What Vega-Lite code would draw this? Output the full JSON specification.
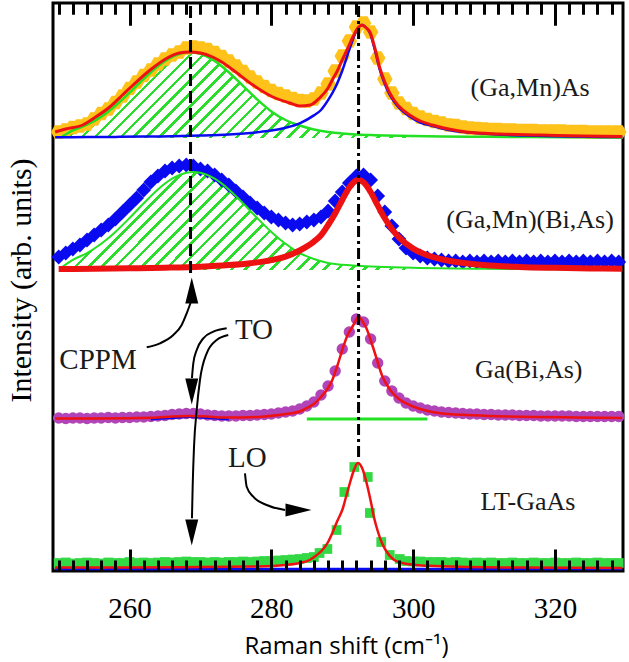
{
"$schema":"https://vega.github.io/schema/vega-lite/v6.json",
"width":570,"height":568,
"autosize":{"type":"none"},
"padding":{"left":53,"top":3,"right":6,"bottom":91},
"background":"white",
"config":{"view":{"stroke":"black","strokeWidth":3},"axis":{"grid":false,"domain":false,"zindex":1}},
"datasets":{
"Adat":[{"x":250,"y":439},{"x":251,"y":441},{"x":252,"y":443.5},{"x":253,"y":445},{"x":254,"y":447},{"x":255,"y":452},{"x":256,"y":457.5},{"x":257,"y":462},{"x":258,"y":468.5},{"x":259,"y":475},{"x":260,"y":482.5},{"x":261,"y":489},{"x":262,"y":495.5},{"x":263,"y":501},{"x":264,"y":507},{"x":265,"y":512},{"x":266,"y":516},{"x":267,"y":519},{"x":268,"y":523},{"x":269,"y":524},{"x":270,"y":523},{"x":271,"y":521.5},{"x":272,"y":518.5},{"x":273,"y":514.5},{"x":274,"y":510},{"x":275,"y":505},{"x":276,"y":499.5},{"x":277,"y":494},{"x":278,"y":489},{"x":279,"y":484.5},{"x":280,"y":480.5},{"x":281,"y":477.5},{"x":282,"y":475},{"x":283,"y":472.5},{"x":284,"y":470.5},{"x":285,"y":470},{"x":286,"y":472},{"x":287,"y":478},{"x":288,"y":487},{"x":289,"y":500},{"x":290,"y":515},{"x":291,"y":530},{"x":292,"y":544},{"x":293,"y":548},{"x":294,"y":539},{"x":295,"y":513},{"x":296,"y":492},{"x":297,"y":478},{"x":298,"y":468},{"x":299,"y":462.5},{"x":300,"y":457.5},{"x":301,"y":454},{"x":302,"y":451.5},{"x":303,"y":449.5},{"x":304,"y":448},{"x":305,"y":446},{"x":306,"y":445.5},{"x":307,"y":444},{"x":308,"y":443},{"x":309,"y":442.5},{"x":310,"y":442},{"x":311,"y":441.5},{"x":312,"y":441.5},{"x":313,"y":441},{"x":314,"y":441},{"x":315,"y":440.5},{"x":316,"y":440.5},{"x":317,"y":440.5},{"x":318,"y":440},{"x":319,"y":440},{"x":320,"y":440},{"x":321,"y":440},{"x":322,"y":439.5},{"x":323,"y":439.5},{"x":324,"y":439.5},{"x":325,"y":439},{"x":326,"y":439},{"x":327,"y":439},{"x":328,"y":439},{"x":329,"y":439}],
"Ared":[{"x":249.5,"y":439},{"x":251,"y":442},{"x":253.4,"y":446},{"x":255,"y":453},{"x":257.2,"y":464},{"x":259,"y":476},{"x":260.5,"y":486},{"x":262.9,"y":501},{"x":265.3,"y":513},{"x":267,"y":518},{"x":268.5,"y":519},{"x":270,"y":518},{"x":271.7,"y":514},{"x":273,"y":509},{"x":274.6,"y":501},{"x":277.4,"y":486},{"x":280.2,"y":474},{"x":282.6,"y":468},{"x":284,"y":465},{"x":285.5,"y":466},{"x":286.8,"y":473},{"x":288,"y":483},{"x":288.6,"y":491},{"x":289.3,"y":500},{"x":290,"y":511},{"x":290.8,"y":523},{"x":291.5,"y":534},{"x":292.2,"y":543},{"x":292.8,"y":546},{"x":293.4,"y":543},{"x":293.9,"y":539},{"x":294.6,"y":523},{"x":295.3,"y":503},{"x":296,"y":489},{"x":296.7,"y":478},{"x":297.4,"y":470},{"x":298.1,"y":464},{"x":299.5,"y":456},{"x":301,"y":450},{"x":302.7,"y":446},{"x":305,"y":442},{"x":307.5,"y":439},{"x":312.2,"y":437},{"x":318,"y":436},{"x":324,"y":435},{"x":329.5,"y":434.5}],
"Ablue":[{"x":249.5,"y":433.7},{"x":254,"y":433.9},{"x":258,"y":434.1},{"x":262,"y":434.4},{"x":266,"y":434.8},{"x":270,"y":435.5},{"x":274,"y":436.6},{"x":278,"y":438.7},{"x":280,"y":440.4},{"x":282,"y":443.2},{"x":284,"y":447.7},{"x":286,"y":455.6},{"x":287,"y":461},{"x":288,"y":470.8},{"x":289,"y":483.2},{"x":290,"y":500.3},{"x":291,"y":521.3},{"x":292,"y":540},{"x":292.8,"y":546},{"x":293.4,"y":543},{"x":293.9,"y":538},{"x":294.6,"y":521},{"x":295.3,"y":501},{"x":296,"y":487},{"x":296.7,"y":476},{"x":297.4,"y":468.5},{"x":298.1,"y":462.5},{"x":299.5,"y":454.5},{"x":301,"y":448.5},{"x":302.7,"y":445},{"x":305,"y":441},{"x":308,"y":438.4},{"x":312,"y":436.4},{"x":316,"y":435.4},{"x":320,"y":434.7},{"x":325,"y":434.2},{"x":329.5,"y":433.9}],
"Agreen":[{"x":250.5,"y":434.5},{"x":252,"y":440.6},{"x":254,"y":446.3},{"x":256,"y":454.4},{"x":258,"y":465.3},{"x":260,"y":478.3},{"x":262,"y":492.1},{"x":264,"y":504.8},{"x":266,"y":514.1},{"x":268,"y":518.8},{"x":268.6,"y":519},{"x":270,"y":517.3},{"x":272,"y":510.1},{"x":274,"y":498.7},{"x":276,"y":485.2},{"x":278,"y":471.6},{"x":280,"y":459.6},{"x":282,"y":451},{"x":284,"y":445.5},{"x":286,"y":441.5},{"x":288,"y":439},{"x":290,"y":437.5},{"x":292,"y":436.5},{"x":294.5,"y":435.8},{"x":298,"y":435.2},{"x":300,"y":435},{"x":302,"y":434.8},{"x":308,"y":434.3},{"x":316,"y":433.9},{"x":329.5,"y":433.5}],
"Bdat":[{"x":250,"y":314},{"x":251,"y":318},{"x":252,"y":322},{"x":253,"y":326},{"x":254,"y":331},{"x":255,"y":336},{"x":256,"y":341},{"x":257,"y":346},{"x":258,"y":352},{"x":259,"y":359},{"x":260,"y":366},{"x":261,"y":373},{"x":262,"y":381},{"x":263,"y":389},{"x":264,"y":395},{"x":265,"y":400},{"x":266,"y":403},{"x":267,"y":405},{"x":268,"y":406},{"x":269,"y":405},{"x":270,"y":402},{"x":271,"y":400},{"x":272,"y":396},{"x":273,"y":391},{"x":274,"y":386},{"x":275,"y":380},{"x":276,"y":374},{"x":277,"y":368},{"x":278,"y":363},{"x":279,"y":358},{"x":280,"y":354},{"x":281,"y":351},{"x":282,"y":348},{"x":283,"y":346},{"x":284,"y":347},{"x":285,"y":349},{"x":286,"y":351},{"x":287,"y":354},{"x":288,"y":360},{"x":289,"y":370},{"x":290,"y":379},{"x":291,"y":388},{"x":292,"y":395},{"x":293,"y":396},{"x":294,"y":391},{"x":295,"y":375},{"x":296,"y":359},{"x":297,"y":345},{"x":298,"y":332},{"x":299,"y":323},{"x":300,"y":318},{"x":301,"y":315},{"x":302,"y":313},{"x":303,"y":312},{"x":304,"y":311},{"x":305,"y":310},{"x":306,"y":310},{"x":307,"y":309},{"x":308,"y":310},{"x":309,"y":309},{"x":310,"y":310},{"x":311,"y":309},{"x":312,"y":310},{"x":313,"y":309},{"x":314,"y":310},{"x":315,"y":309},{"x":316,"y":310},{"x":317,"y":309},{"x":318,"y":310},{"x":319,"y":309},{"x":320,"y":310},{"x":321,"y":309},{"x":322,"y":310},{"x":323,"y":309},{"x":324,"y":310},{"x":325,"y":309},{"x":326,"y":310},{"x":327,"y":309},{"x":328,"y":310},{"x":329,"y":309}],
"Bred":[{"x":250,"y":301.9},{"x":255,"y":302.2},{"x":260,"y":302.7},{"x":265,"y":303.3},{"x":270,"y":304.3},{"x":274,"y":305.9},{"x":277,"y":307.8},{"x":280,"y":310.9},{"x":282,"y":314.3},{"x":284,"y":320.5},{"x":286,"y":329.4},{"x":287,"y":335.8},{"x":288,"y":346},{"x":289,"y":357.6},{"x":290,"y":371},{"x":291,"y":383.5},{"x":292,"y":390.6},{"x":292.3,"y":391},{"x":293,"y":388.7},{"x":294,"y":379},{"x":295,"y":365.6},{"x":296,"y":352.7},{"x":297,"y":342},{"x":298,"y":333.6},{"x":300,"y":322.4},{"x":302,"y":315.8},{"x":305,"y":310.3},{"x":310,"y":306},{"x":315,"y":304.1},{"x":320,"y":303.2},{"x":325,"y":302.6},{"x":329.5,"y":302.2}],
"Bgreen":[{"x":250.5,"y":304},{"x":252,"y":311.2},{"x":254,"y":317.9},{"x":256,"y":327.2},{"x":258,"y":339.1},{"x":260,"y":353},{"x":262,"y":367.8},{"x":264,"y":381.6},{"x":266,"y":392.3},{"x":268,"y":398.2},{"x":269,"y":399},{"x":270,"y":398.2},{"x":272,"y":392.3},{"x":274,"y":381.6},{"x":276,"y":367.8},{"x":278,"y":353},{"x":280,"y":339.1},{"x":282,"y":327.2},{"x":284,"y":317.9},{"x":286,"y":312},{"x":288,"y":308},{"x":290,"y":306.2},{"x":292,"y":305.3},{"x":295,"y":304.3},{"x":300,"y":303.2},{"x":310,"y":302.2},{"x":320,"y":301.8},{"x":329.5,"y":301.5}],
"Cdat":[{"x":250,"y":153},{"x":251,"y":152.5},{"x":252,"y":153},{"x":253,"y":153},{"x":254,"y":152.5},{"x":255,"y":153},{"x":256,"y":153},{"x":257,"y":153.5},{"x":258,"y":153},{"x":259,"y":153.5},{"x":260,"y":153.5},{"x":261,"y":154},{"x":262,"y":154},{"x":263,"y":154.5},{"x":264,"y":155},{"x":265,"y":155.5},{"x":266,"y":156.5},{"x":267,"y":157},{"x":268,"y":157.5},{"x":269,"y":157.5},{"x":270,"y":157},{"x":271,"y":156},{"x":272,"y":155.5},{"x":273,"y":155},{"x":274,"y":155},{"x":275,"y":155},{"x":276,"y":155.5},{"x":277,"y":155.5},{"x":278,"y":156},{"x":279,"y":156.5},{"x":280,"y":157},{"x":281,"y":158},{"x":282,"y":159},{"x":283,"y":160},{"x":284,"y":162},{"x":285,"y":165},{"x":286,"y":169},{"x":287,"y":176},{"x":288,"y":185},{"x":289,"y":200},{"x":290,"y":222},{"x":291,"y":239},{"x":292,"y":252},{"x":293,"y":249},{"x":294,"y":232},{"x":295,"y":208},{"x":296,"y":190},{"x":297,"y":180},{"x":298,"y":173},{"x":299,"y":168},{"x":300,"y":165},{"x":301,"y":163},{"x":302,"y":161},{"x":303,"y":160},{"x":304,"y":159},{"x":305,"y":158.5},{"x":306,"y":158},{"x":307,"y":157.5},{"x":308,"y":157},{"x":309,"y":157},{"x":310,"y":156.5},{"x":311,"y":156.5},{"x":312,"y":156},{"x":313,"y":156},{"x":314,"y":156},{"x":315,"y":155.5},{"x":316,"y":155.5},{"x":317,"y":155.5},{"x":318,"y":155},{"x":319,"y":155},{"x":320,"y":155},{"x":321,"y":155},{"x":322,"y":155},{"x":323,"y":154.5},{"x":324,"y":154.5},{"x":325,"y":154.5},{"x":326,"y":154.5},{"x":327,"y":154.5},{"x":328,"y":154.5},{"x":329,"y":154.5}],
"Cred":[{"x":249.5,"y":152.5},{"x":255,"y":152.5},{"x":260,"y":152.8},{"x":264,"y":153.5},{"x":266,"y":154.5},{"x":268.5,"y":155},{"x":271,"y":154.5},{"x":273,"y":153.5},{"x":276,"y":153.5},{"x":279,"y":154.5},{"x":281,"y":156},{"x":283,"y":158},{"x":284,"y":159.5},{"x":285,"y":163},{"x":286,"y":167},{"x":287,"y":174},{"x":288,"y":183},{"x":288.6,"y":191},{"x":289.3,"y":205},{"x":290,"y":221},{"x":290.7,"y":235},{"x":291.5,"y":245},{"x":292.3,"y":254},{"x":293,"y":248},{"x":293.4,"y":243},{"x":294,"y":231},{"x":294.6,"y":218},{"x":295.2,"y":204},{"x":295.7,"y":194},{"x":296.4,"y":185},{"x":297.1,"y":178},{"x":298,"y":172},{"x":299.5,"y":166},{"x":301,"y":162},{"x":302.7,"y":159},{"x":305,"y":157},{"x":307.5,"y":156},{"x":312,"y":154.8},{"x":317,"y":154},{"x":323,"y":153.5},{"x":329.5,"y":153}],
"Cgreen":[{"x":285,"y":152},{"x":302,"y":152}],
"Cblue":[{"x":263,"y":151.5},{"x":266,"y":153},{"x":268.5,"y":154},{"x":271,"y":153},{"x":274,"y":151.5}],
"Ddat":[{"x":250,"y":8},{"x":251,"y":8.5},{"x":252,"y":7.5},{"x":253,"y":8},{"x":254,"y":8.5},{"x":255,"y":8},{"x":256,"y":7.5},{"x":257,"y":8.5},{"x":258,"y":8},{"x":259,"y":8},{"x":260,"y":9},{"x":261,"y":8},{"x":262,"y":8.5},{"x":263,"y":8},{"x":264,"y":8.5},{"x":265,"y":9},{"x":266,"y":8.5},{"x":267,"y":9},{"x":268,"y":9.5},{"x":269,"y":9},{"x":270,"y":9},{"x":271,"y":8.5},{"x":272,"y":9},{"x":273,"y":8.5},{"x":274,"y":9},{"x":275,"y":9},{"x":276,"y":9.5},{"x":277,"y":9},{"x":278,"y":9.5},{"x":279,"y":10},{"x":280,"y":10},{"x":281,"y":10.5},{"x":282,"y":11},{"x":283,"y":11.5},{"x":284,"y":12},{"x":285,"y":13},{"x":286,"y":14},{"x":286.8,"y":18},{"x":287.9,"y":22},{"x":289.2,"y":41},{"x":290.3,"y":79},{"x":291.7,"y":104},{"x":293.6,"y":94},{"x":293.9,"y":58},{"x":295.5,"y":29},{"x":296.7,"y":16},{"x":298.1,"y":12},{"x":299,"y":10},{"x":300,"y":9.5},{"x":301,"y":9.5},{"x":302,"y":9},{"x":303,"y":9},{"x":304,"y":9},{"x":305,"y":8.5},{"x":306,"y":9},{"x":307,"y":8.5},{"x":308,"y":8},{"x":309,"y":8.5},{"x":310,"y":8},{"x":311,"y":8.5},{"x":312,"y":8},{"x":313,"y":8},{"x":314,"y":8.5},{"x":315,"y":8},{"x":316,"y":8},{"x":317,"y":8.5},{"x":318,"y":8},{"x":319,"y":8},{"x":320,"y":8.5},{"x":321,"y":8},{"x":322,"y":8},{"x":323,"y":8.5},{"x":324,"y":8},{"x":325,"y":8},{"x":326,"y":8.5},{"x":327,"y":8},{"x":328,"y":8},{"x":329,"y":8}],
"Dred":[{"x":249.5,"y":3.5},{"x":260,"y":3.5},{"x":270,"y":4},{"x":278,"y":4.5},{"x":282,"y":6},{"x":284,"y":8},{"x":285.4,"y":11},{"x":286.4,"y":16},{"x":287.2,"y":21},{"x":288,"y":29},{"x":288.6,"y":38},{"x":289.3,"y":50},{"x":290.1,"y":63},{"x":290.6,"y":76},{"x":291,"y":86},{"x":291.6,"y":100},{"x":292.2,"y":108},{"x":292.8,"y":103},{"x":293.4,"y":89},{"x":293.8,"y":77},{"x":294.1,"y":67},{"x":294.5,"y":53},{"x":295,"y":40},{"x":295.6,"y":28},{"x":296.2,"y":20},{"x":297,"y":13},{"x":297.6,"y":10},{"x":298.5,"y":8},{"x":300.4,"y":6},{"x":303,"y":5},{"x":307.5,"y":4},{"x":315,"y":3.5},{"x":329.5,"y":3}],
"Dblue":[{"x":249.5,"y":2},{"x":329.5,"y":2}],
"arrows":[
{"id":"cppm","o":1,"x":262.42,"y":223.7},{"id":"cppm","o":2,"x":264.29,"y":227.7},{"id":"cppm","o":3,"x":266.17,"y":236},{"id":"cppm","o":4,"x":267.35,"y":246},{"id":"cppm","o":5,"x":268.06,"y":257.7},{"id":"cppm","o":6,"x":268.6,"y":268},
{"id":"to1","o":1,"x":273.7,"y":242.7},{"id":"to1","o":2,"x":271.81,"y":239.3},{"id":"to1","o":3,"x":270.4,"y":232.7},{"id":"to1","o":4,"x":269.47,"y":221},{"id":"to1","o":5,"x":268.99,"y":207.7},{"id":"to1","o":6,"x":268.8,"y":193},
{"id":"to2","o":1,"x":273.92,"y":236},{"id":"to2","o":2,"x":272.29,"y":231},{"id":"to2","o":3,"x":270.88,"y":217.7},{"id":"to2","o":4,"x":269.93,"y":191},{"id":"to2","o":5,"x":269.47,"y":161},{"id":"to2","o":6,"x":269.09,"y":124.3},{"id":"to2","o":7,"x":268.9,"y":84.3},{"id":"to2","o":8,"x":268.8,"y":52.7},
{"id":"lo","o":1,"x":276.28,"y":97.7},{"id":"lo","o":2,"x":276.52,"y":84.3},{"id":"lo","o":3,"x":277.45,"y":74.3},{"id":"lo","o":4,"x":279.34,"y":66},{"id":"lo","o":5,"x":281.92,"y":61}],
"heads":[{"x":268.77,"y":280.5,"a":0},{"x":268.77,"y":179.5,"a":180},{"x":268.77,"y":38.5,"a":180},{"x":283.83,"y":61,"a":90}],
"labels":[{"t":"(Ga,Mn)As","x":316.5,"y":483},{"t":"(Ga,Mn)(Bi,As)","x":316.5,"y":351},{"t":"Ga(Bi,As)","x":316.3,"y":201},{"t":"LT-GaAs","x":316.2,"y":69}],
"notes":[{"t":"CPPM","x":255.55,"y":211},{"t":"TO","x":277.55,"y":241},{"t":"LO","x":276.6,"y":113}]
},
"layer":[
{"data":{"name":"Agreen"},"transform":[{"filter":"datum.x <= 300"}],
 "mark":{"type":"area","opacity":1,"interpolate":"monotone","fill":{"gradient":"linear","x1":0,"y1":0,"x2":1.175,"y2":0.288,"stops":[
{"offset":0,"color":"#2BDD2B"},{"offset":0.008,"color":"#2BDD2B"},{"offset":0.008,"color":"rgba(255,255,255,0)"},{"offset":0.0295,"color":"rgba(255,255,255,0)"},
{"offset":0.0295,"color":"#2BDD2B"},{"offset":0.0375,"color":"#2BDD2B"},{"offset":0.0375,"color":"rgba(255,255,255,0)"},{"offset":0.059,"color":"rgba(255,255,255,0)"},
{"offset":0.059,"color":"#2BDD2B"},{"offset":0.067,"color":"#2BDD2B"},{"offset":0.067,"color":"rgba(255,255,255,0)"},{"offset":0.0885,"color":"rgba(255,255,255,0)"},
{"offset":0.0885,"color":"#2BDD2B"},{"offset":0.0965,"color":"#2BDD2B"},{"offset":0.0965,"color":"rgba(255,255,255,0)"},{"offset":0.118,"color":"rgba(255,255,255,0)"},
{"offset":0.118,"color":"#2BDD2B"},{"offset":0.126,"color":"#2BDD2B"},{"offset":0.126,"color":"rgba(255,255,255,0)"},{"offset":0.1475,"color":"rgba(255,255,255,0)"},
{"offset":0.1475,"color":"#2BDD2B"},{"offset":0.1555,"color":"#2BDD2B"},{"offset":0.1555,"color":"rgba(255,255,255,0)"},{"offset":0.177,"color":"rgba(255,255,255,0)"},
{"offset":0.177,"color":"#2BDD2B"},{"offset":0.185,"color":"#2BDD2B"},{"offset":0.185,"color":"rgba(255,255,255,0)"},{"offset":0.2065,"color":"rgba(255,255,255,0)"},
{"offset":0.2065,"color":"#2BDD2B"},{"offset":0.2145,"color":"#2BDD2B"},{"offset":0.2145,"color":"rgba(255,255,255,0)"},{"offset":0.236,"color":"rgba(255,255,255,0)"},
{"offset":0.236,"color":"#2BDD2B"},{"offset":0.244,"color":"#2BDD2B"},{"offset":0.244,"color":"rgba(255,255,255,0)"},{"offset":0.2655,"color":"rgba(255,255,255,0)"},
{"offset":0.2655,"color":"#2BDD2B"},{"offset":0.2735,"color":"#2BDD2B"},{"offset":0.2735,"color":"rgba(255,255,255,0)"},{"offset":0.295,"color":"rgba(255,255,255,0)"},
{"offset":0.295,"color":"#2BDD2B"},{"offset":0.303,"color":"#2BDD2B"},{"offset":0.303,"color":"rgba(255,255,255,0)"},{"offset":0.3245,"color":"rgba(255,255,255,0)"},
{"offset":0.3245,"color":"#2BDD2B"},{"offset":0.3325,"color":"#2BDD2B"},{"offset":0.3325,"color":"rgba(255,255,255,0)"},{"offset":0.354,"color":"rgba(255,255,255,0)"},
{"offset":0.354,"color":"#2BDD2B"},{"offset":0.362,"color":"#2BDD2B"},{"offset":0.362,"color":"rgba(255,255,255,0)"},{"offset":0.3835,"color":"rgba(255,255,255,0)"},
{"offset":0.3835,"color":"#2BDD2B"},{"offset":0.3915,"color":"#2BDD2B"},{"offset":0.3915,"color":"rgba(255,255,255,0)"},{"offset":0.413,"color":"rgba(255,255,255,0)"},
{"offset":0.413,"color":"#2BDD2B"},{"offset":0.421,"color":"#2BDD2B"},{"offset":0.421,"color":"rgba(255,255,255,0)"},{"offset":0.4425,"color":"rgba(255,255,255,0)"},
{"offset":0.4425,"color":"#2BDD2B"},{"offset":0.4505,"color":"#2BDD2B"},{"offset":0.4505,"color":"rgba(255,255,255,0)"},{"offset":0.472,"color":"rgba(255,255,255,0)"},
{"offset":0.472,"color":"#2BDD2B"},{"offset":0.48,"color":"#2BDD2B"},{"offset":0.48,"color":"rgba(255,255,255,0)"},{"offset":0.5015,"color":"rgba(255,255,255,0)"},
{"offset":0.5015,"color":"#2BDD2B"},{"offset":0.5095,"color":"#2BDD2B"},{"offset":0.5095,"color":"rgba(255,255,255,0)"},{"offset":0.531,"color":"rgba(255,255,255,0)"},
{"offset":0.531,"color":"#2BDD2B"},{"offset":0.539,"color":"#2BDD2B"},{"offset":0.539,"color":"rgba(255,255,255,0)"},{"offset":0.5605,"color":"rgba(255,255,255,0)"},
{"offset":0.5605,"color":"#2BDD2B"},{"offset":0.5685,"color":"#2BDD2B"},{"offset":0.5685,"color":"rgba(255,255,255,0)"},{"offset":0.59,"color":"rgba(255,255,255,0)"},
{"offset":0.59,"color":"#2BDD2B"},{"offset":0.598,"color":"#2BDD2B"},{"offset":0.598,"color":"rgba(255,255,255,0)"},{"offset":0.6195,"color":"rgba(255,255,255,0)"},
{"offset":0.6195,"color":"#2BDD2B"},{"offset":0.6275,"color":"#2BDD2B"},{"offset":0.6275,"color":"rgba(255,255,255,0)"},{"offset":0.649,"color":"rgba(255,255,255,0)"},
{"offset":0.649,"color":"#2BDD2B"},{"offset":0.657,"color":"#2BDD2B"},{"offset":0.657,"color":"rgba(255,255,255,0)"},{"offset":0.6785,"color":"rgba(255,255,255,0)"},
{"offset":0.6785,"color":"#2BDD2B"},{"offset":0.6865,"color":"#2BDD2B"},{"offset":0.6865,"color":"rgba(255,255,255,0)"},{"offset":0.708,"color":"rgba(255,255,255,0)"},
{"offset":0.708,"color":"#2BDD2B"},{"offset":0.716,"color":"#2BDD2B"},{"offset":0.716,"color":"rgba(255,255,255,0)"},{"offset":0.7375,"color":"rgba(255,255,255,0)"},
{"offset":0.7375,"color":"#2BDD2B"},{"offset":0.7455,"color":"#2BDD2B"},{"offset":0.7455,"color":"rgba(255,255,255,0)"},{"offset":0.767,"color":"rgba(255,255,255,0)"},
{"offset":0.767,"color":"#2BDD2B"},{"offset":0.775,"color":"#2BDD2B"},{"offset":0.775,"color":"rgba(255,255,255,0)"},{"offset":0.7965,"color":"rgba(255,255,255,0)"},
{"offset":0.7965,"color":"#2BDD2B"},{"offset":0.8045,"color":"#2BDD2B"},{"offset":0.8045,"color":"rgba(255,255,255,0)"},{"offset":0.826,"color":"rgba(255,255,255,0)"},
{"offset":0.826,"color":"#2BDD2B"},{"offset":0.834,"color":"#2BDD2B"},{"offset":0.834,"color":"rgba(255,255,255,0)"},{"offset":0.8555,"color":"rgba(255,255,255,0)"},
{"offset":0.8555,"color":"#2BDD2B"},{"offset":0.8635,"color":"#2BDD2B"},{"offset":0.8635,"color":"rgba(255,255,255,0)"},{"offset":0.885,"color":"rgba(255,255,255,0)"},
{"offset":0.885,"color":"#2BDD2B"},{"offset":0.893,"color":"#2BDD2B"},{"offset":0.893,"color":"rgba(255,255,255,0)"},{"offset":0.9145,"color":"rgba(255,255,255,0)"},
{"offset":0.9145,"color":"#2BDD2B"},{"offset":0.9225,"color":"#2BDD2B"},{"offset":0.9225,"color":"rgba(255,255,255,0)"},{"offset":0.944,"color":"rgba(255,255,255,0)"},
{"offset":0.944,"color":"#2BDD2B"},{"offset":0.952,"color":"#2BDD2B"},{"offset":0.952,"color":"rgba(255,255,255,0)"},{"offset":0.9735,"color":"rgba(255,255,255,0)"},
{"offset":0.9735,"color":"#2BDD2B"},{"offset":0.9815,"color":"#2BDD2B"},{"offset":0.9815,"color":"rgba(255,255,255,0)"},{"offset":1,"color":"rgba(255,255,255,0)"}]}},
 "encoding":{"x":{"field":"x","type":"quantitative","scale":{"domain":[249.2,329.6],"nice":false,"zero":false},
   "axis":{"orient":"top","values":[260,280,300,320],"offset":-22,"tickSize":22,"tickWidth":3,"tickColor":"black","labels":false,"title":null}},
  "y":{"field":"y","type":"quantitative","scale":{"domain":[0,568],"nice":false,"zero":false},
   "axis":{"orient":"left","ticks":false,"labels":false,"title":"Intensity (arb. units)","titleFont":"Liberation Serif","titleFontSize":30,"titleFontWeight":"normal","titleColor":"black","titleAngle":-90,"titleX":-32,"titleY":277,"titleAlign":"center","titleBaseline":"middle"}},
  "y2":{"datum":433}}},
{"data":{"name":"Bgreen"},"transform":[{"filter":"datum.x <= 300"}],
 "mark":{"type":"area","opacity":1,"interpolate":"monotone","fill":{"gradient":"linear","x1":0,"y1":0,"x2":1.187,"y2":0.331,"stops":[
{"offset":0,"color":"#2BDD2B"},{"offset":0.008,"color":"#2BDD2B"},{"offset":0.008,"color":"rgba(255,255,255,0)"},{"offset":0.0295,"color":"rgba(255,255,255,0)"},
{"offset":0.0295,"color":"#2BDD2B"},{"offset":0.0375,"color":"#2BDD2B"},{"offset":0.0375,"color":"rgba(255,255,255,0)"},{"offset":0.059,"color":"rgba(255,255,255,0)"},
{"offset":0.059,"color":"#2BDD2B"},{"offset":0.067,"color":"#2BDD2B"},{"offset":0.067,"color":"rgba(255,255,255,0)"},{"offset":0.0885,"color":"rgba(255,255,255,0)"},
{"offset":0.0885,"color":"#2BDD2B"},{"offset":0.0965,"color":"#2BDD2B"},{"offset":0.0965,"color":"rgba(255,255,255,0)"},{"offset":0.118,"color":"rgba(255,255,255,0)"},
{"offset":0.118,"color":"#2BDD2B"},{"offset":0.126,"color":"#2BDD2B"},{"offset":0.126,"color":"rgba(255,255,255,0)"},{"offset":0.1475,"color":"rgba(255,255,255,0)"},
{"offset":0.1475,"color":"#2BDD2B"},{"offset":0.1555,"color":"#2BDD2B"},{"offset":0.1555,"color":"rgba(255,255,255,0)"},{"offset":0.177,"color":"rgba(255,255,255,0)"},
{"offset":0.177,"color":"#2BDD2B"},{"offset":0.185,"color":"#2BDD2B"},{"offset":0.185,"color":"rgba(255,255,255,0)"},{"offset":0.2065,"color":"rgba(255,255,255,0)"},
{"offset":0.2065,"color":"#2BDD2B"},{"offset":0.2145,"color":"#2BDD2B"},{"offset":0.2145,"color":"rgba(255,255,255,0)"},{"offset":0.236,"color":"rgba(255,255,255,0)"},
{"offset":0.236,"color":"#2BDD2B"},{"offset":0.244,"color":"#2BDD2B"},{"offset":0.244,"color":"rgba(255,255,255,0)"},{"offset":0.2655,"color":"rgba(255,255,255,0)"},
{"offset":0.2655,"color":"#2BDD2B"},{"offset":0.2735,"color":"#2BDD2B"},{"offset":0.2735,"color":"rgba(255,255,255,0)"},{"offset":0.295,"color":"rgba(255,255,255,0)"},
{"offset":0.295,"color":"#2BDD2B"},{"offset":0.303,"color":"#2BDD2B"},{"offset":0.303,"color":"rgba(255,255,255,0)"},{"offset":0.3245,"color":"rgba(255,255,255,0)"},
{"offset":0.3245,"color":"#2BDD2B"},{"offset":0.3325,"color":"#2BDD2B"},{"offset":0.3325,"color":"rgba(255,255,255,0)"},{"offset":0.354,"color":"rgba(255,255,255,0)"},
{"offset":0.354,"color":"#2BDD2B"},{"offset":0.362,"color":"#2BDD2B"},{"offset":0.362,"color":"rgba(255,255,255,0)"},{"offset":0.3835,"color":"rgba(255,255,255,0)"},
{"offset":0.3835,"color":"#2BDD2B"},{"offset":0.3915,"color":"#2BDD2B"},{"offset":0.3915,"color":"rgba(255,255,255,0)"},{"offset":0.413,"color":"rgba(255,255,255,0)"},
{"offset":0.413,"color":"#2BDD2B"},{"offset":0.421,"color":"#2BDD2B"},{"offset":0.421,"color":"rgba(255,255,255,0)"},{"offset":0.4425,"color":"rgba(255,255,255,0)"},
{"offset":0.4425,"color":"#2BDD2B"},{"offset":0.4505,"color":"#2BDD2B"},{"offset":0.4505,"color":"rgba(255,255,255,0)"},{"offset":0.472,"color":"rgba(255,255,255,0)"},
{"offset":0.472,"color":"#2BDD2B"},{"offset":0.48,"color":"#2BDD2B"},{"offset":0.48,"color":"rgba(255,255,255,0)"},{"offset":0.5015,"color":"rgba(255,255,255,0)"},
{"offset":0.5015,"color":"#2BDD2B"},{"offset":0.5095,"color":"#2BDD2B"},{"offset":0.5095,"color":"rgba(255,255,255,0)"},{"offset":0.531,"color":"rgba(255,255,255,0)"},
{"offset":0.531,"color":"#2BDD2B"},{"offset":0.539,"color":"#2BDD2B"},{"offset":0.539,"color":"rgba(255,255,255,0)"},{"offset":0.5605,"color":"rgba(255,255,255,0)"},
{"offset":0.5605,"color":"#2BDD2B"},{"offset":0.5685,"color":"#2BDD2B"},{"offset":0.5685,"color":"rgba(255,255,255,0)"},{"offset":0.59,"color":"rgba(255,255,255,0)"},
{"offset":0.59,"color":"#2BDD2B"},{"offset":0.598,"color":"#2BDD2B"},{"offset":0.598,"color":"rgba(255,255,255,0)"},{"offset":0.6195,"color":"rgba(255,255,255,0)"},
{"offset":0.6195,"color":"#2BDD2B"},{"offset":0.6275,"color":"#2BDD2B"},{"offset":0.6275,"color":"rgba(255,255,255,0)"},{"offset":0.649,"color":"rgba(255,255,255,0)"},
{"offset":0.649,"color":"#2BDD2B"},{"offset":0.657,"color":"#2BDD2B"},{"offset":0.657,"color":"rgba(255,255,255,0)"},{"offset":0.6785,"color":"rgba(255,255,255,0)"},
{"offset":0.6785,"color":"#2BDD2B"},{"offset":0.6865,"color":"#2BDD2B"},{"offset":0.6865,"color":"rgba(255,255,255,0)"},{"offset":0.708,"color":"rgba(255,255,255,0)"},
{"offset":0.708,"color":"#2BDD2B"},{"offset":0.716,"color":"#2BDD2B"},{"offset":0.716,"color":"rgba(255,255,255,0)"},{"offset":0.7375,"color":"rgba(255,255,255,0)"},
{"offset":0.7375,"color":"#2BDD2B"},{"offset":0.7455,"color":"#2BDD2B"},{"offset":0.7455,"color":"rgba(255,255,255,0)"},{"offset":0.767,"color":"rgba(255,255,255,0)"},
{"offset":0.767,"color":"#2BDD2B"},{"offset":0.775,"color":"#2BDD2B"},{"offset":0.775,"color":"rgba(255,255,255,0)"},{"offset":0.7965,"color":"rgba(255,255,255,0)"},
{"offset":0.7965,"color":"#2BDD2B"},{"offset":0.8045,"color":"#2BDD2B"},{"offset":0.8045,"color":"rgba(255,255,255,0)"},{"offset":0.826,"color":"rgba(255,255,255,0)"},
{"offset":0.826,"color":"#2BDD2B"},{"offset":0.834,"color":"#2BDD2B"},{"offset":0.834,"color":"rgba(255,255,255,0)"},{"offset":0.8555,"color":"rgba(255,255,255,0)"},
{"offset":0.8555,"color":"#2BDD2B"},{"offset":0.8635,"color":"#2BDD2B"},{"offset":0.8635,"color":"rgba(255,255,255,0)"},{"offset":0.885,"color":"rgba(255,255,255,0)"},
{"offset":0.885,"color":"#2BDD2B"},{"offset":0.893,"color":"#2BDD2B"},{"offset":0.893,"color":"rgba(255,255,255,0)"},{"offset":0.9145,"color":"rgba(255,255,255,0)"},
{"offset":0.9145,"color":"#2BDD2B"},{"offset":0.9225,"color":"#2BDD2B"},{"offset":0.9225,"color":"rgba(255,255,255,0)"},{"offset":0.944,"color":"rgba(255,255,255,0)"},
{"offset":0.944,"color":"#2BDD2B"},{"offset":0.952,"color":"#2BDD2B"},{"offset":0.952,"color":"rgba(255,255,255,0)"},{"offset":0.9735,"color":"rgba(255,255,255,0)"},
{"offset":0.9735,"color":"#2BDD2B"},{"offset":0.9815,"color":"#2BDD2B"},{"offset":0.9815,"color":"rgba(255,255,255,0)"},{"offset":1,"color":"rgba(255,255,255,0)"}]}},
 "encoding":{"x":{"field":"x","type":"quantitative","scale":{"domain":[249.2,329.6],"nice":false,"zero":false},
   "axis":{"orient":"top","values":[250,252,254,256,258,260,262,264,266,268,270,272,274,276,278,280,282,284,286,288,290,292,294,296,298,300,302,304,306,308,310,312,314,316,318,320,322,324,326,328],"offset":-11,"tickSize":11,"tickWidth":3,"tickColor":"black","labels":false,"title":null}},
  "y":{"field":"y","type":"quantitative","scale":{"domain":[0,568],"nice":false,"zero":false},"axis":null},"y2":{"datum":301}}},
{"data":{"name":"Adat"},"mark":{"type":"point","filled":true,"opacity":1,"shape":"M-1,0L-0.5,-0.866L0.5,-0.866L1,0L0.5,0.866L-0.5,0.866Z","size":240,"color":"#FFC21A"},
 "encoding":{"x":{"field":"x","type":"quantitative","scale":{"domain":[249.2,329.6],"nice":false,"zero":false},
   "axis":{"orient":"bottom","values":[260,280,300,320],"ticks":false,"labels":false,"title":null,"grid":true,"gridColor":"black","gridOpacity":1,"gridWidth":3,"gridDash":[22,524,22,1000],"zindex":1}},
  "y":{"field":"y","type":"quantitative","scale":{"domain":[0,568],"nice":false,"zero":false},"axis":null}}},
{"data":{"name":"Agreen"},"mark":{"type":"line","color":"#22E022","strokeWidth":2.5,"interpolate":"monotone"},
 "encoding":{"x":{"field":"x","type":"quantitative","scale":{"domain":[249.2,329.6],"nice":false,"zero":false},
   "axis":{"orient":"bottom","values":[250,252,254,256,258,262,264,266,268,270,272,274,276,278,282,284,286,288,290,292,294,296,298,302,304,306,308,310,312,314,316,318,322,324,326,328],"ticks":false,"labels":false,"title":null,"grid":true,"gridColor":"black","gridOpacity":1,"gridWidth":3,"gridDash":[11,546,11,1000],"zindex":1}},
  "y":{"field":"y","type":"quantitative","scale":{"domain":[0,568],"nice":false,"zero":false},"axis":null}}},
{"data":{"name":"Ablue"},"mark":{"type":"line","color":"#0A0AF0","strokeWidth":2.5,"interpolate":"monotone"},
 "encoding":{"x":{"field":"x","type":"quantitative","scale":{"domain":[249.2,329.6],"nice":false,"zero":false},
   "axis":{"orient":"bottom","values":[260,280,300,320],"ticks":false,"labelFont":"Liberation Serif","labelFontSize":29,"labelColor":"black","labelBaseline":"middle","labelPadding":37,"labelFlush":false,"title":"Raman shift (cm⁻¹)","titleFont":"Open Sans","titleFontSize":24,"titleFontWeight":"normal","titleColor":"black","titleX":293,"titleY":75,"titleBaseline":"middle","titleAlign":"center"}},
  "y":{"field":"y","type":"quantitative","axis":null}}},
{"data":{"name":"Ared"},"mark":{"type":"line","color":"#EE1111","strokeWidth":3,"interpolate":"monotone"},
 "encoding":{"x":{"field":"x","type":"quantitative","axis":null},"y":{"field":"y","type":"quantitative","axis":null}}},
{"data":{"name":"Bdat"},"mark":{"type":"point","filled":true,"opacity":1,"shape":"diamond","size":220,"color":"#0A0AF0"},
 "encoding":{"x":{"field":"x","type":"quantitative","axis":null},"y":{"field":"y","type":"quantitative","axis":null}}},
{"data":{"name":"Bgreen"},"mark":{"type":"line","color":"#22E022","strokeWidth":2,"interpolate":"monotone"},
 "encoding":{"x":{"field":"x","type":"quantitative","axis":null},"y":{"field":"y","type":"quantitative","axis":null}}},
{"data":{"name":"Bred"},"mark":{"type":"line","color":"#EE1111","strokeWidth":6,"interpolate":"monotone"},
 "encoding":{"x":{"field":"x","type":"quantitative","axis":null},"y":{"field":"y","type":"quantitative","axis":null}}},
{"data":{"name":"Cdat"},"mark":{"type":"point","filled":true,"opacity":1,"shape":"circle","size":130,"color":"#B044B8"},
 "encoding":{"x":{"field":"x","type":"quantitative","axis":null},"y":{"field":"y","type":"quantitative","axis":null}}},
{"data":{"name":"Cgreen"},"mark":{"type":"line","color":"#22E022","strokeWidth":3},
 "encoding":{"x":{"field":"x","type":"quantitative","axis":null},"y":{"field":"y","type":"quantitative","axis":null}}},
{"data":{"name":"Cblue"},"mark":{"type":"line","color":"#0A0AF0","strokeWidth":2,"interpolate":"monotone"},
 "encoding":{"x":{"field":"x","type":"quantitative","axis":null},"y":{"field":"y","type":"quantitative","axis":null}}},
{"data":{"name":"Cred"},"mark":{"type":"line","color":"#EE1111","strokeWidth":2.5,"interpolate":"monotone"},
 "encoding":{"x":{"field":"x","type":"quantitative","axis":null},"y":{"field":"y","type":"quantitative","axis":null}}},
{"data":{"name":"Dblue"},"mark":{"type":"line","color":"#0A0AF0","strokeWidth":2.5},
 "encoding":{"x":{"field":"x","type":"quantitative","axis":null},"y":{"field":"y","type":"quantitative","axis":null}}},
{"data":{"name":"Ddat"},"mark":{"type":"point","filled":true,"opacity":1,"shape":"square","size":95,"color":"#33D844"},
 "encoding":{"x":{"field":"x","type":"quantitative","axis":null},"y":{"field":"y","type":"quantitative","axis":null}}},
{"data":{"name":"Dred"},"mark":{"type":"line","color":"#EE1111","strokeWidth":2.5,"interpolate":"monotone"},
 "encoding":{"x":{"field":"x","type":"quantitative","axis":null},"y":{"field":"y","type":"quantitative","axis":null}}},
{"data":{"values":[{"x":268.6,"y":298,"y2":568}]},"mark":{"type":"rule","color":"black","strokeWidth":3,"strokeDash":[12,5]},
 "encoding":{"x":{"field":"x","type":"quantitative","axis":null},"y":{"field":"y","type":"quantitative","axis":null},"y2":{"field":"y2"}}},
{"data":{"values":[{"x":292.3,"y":114,"y2":568}]},"mark":{"type":"rule","color":"black","strokeWidth":3,"strokeDash":[11,4,3,4]},
 "encoding":{"x":{"field":"x","type":"quantitative","axis":null},"y":{"field":"y","type":"quantitative","axis":null},"y2":{"field":"y2"}}},
{"data":{"name":"arrows"},"mark":{"type":"line","color":"black","strokeWidth":2,"interpolate":"monotone"},
 "encoding":{"x":{"field":"x","type":"quantitative","axis":null},"y":{"field":"y","type":"quantitative","axis":null},"detail":{"field":"id"},"order":{"field":"o","type":"quantitative"}}},
{"data":{"name":"heads"},"mark":{"type":"point","filled":true,"opacity":1,"shape":"M0,-1L0.5,1L-0.5,1Z","size":676,"color":"black"},
 "encoding":{"x":{"field":"x","type":"quantitative","axis":null},"y":{"field":"y","type":"quantitative","axis":null},"angle":{"field":"a","type":"quantitative","scale":null}}},
{"data":{"name":"labels"},"mark":{"type":"text","font":"Liberation Serif","fontSize":26,"color":"#1a1a1a","align":"center","baseline":"middle"},
 "encoding":{"x":{"field":"x","type":"quantitative","axis":null},"y":{"field":"y","type":"quantitative","axis":null},"text":{"field":"t"}}},
{"data":{"name":"notes"},"mark":{"type":"text","font":"Liberation Serif","fontSize":29,"color":"#1a1a1a","align":"center","baseline":"middle"},
 "encoding":{"x":{"field":"x","type":"quantitative","axis":null},"y":{"field":"y","type":"quantitative","axis":null},"text":{"field":"t"}}}
],
"resolve":{"axis":{"x":"independent","y":"independent"}}
}
